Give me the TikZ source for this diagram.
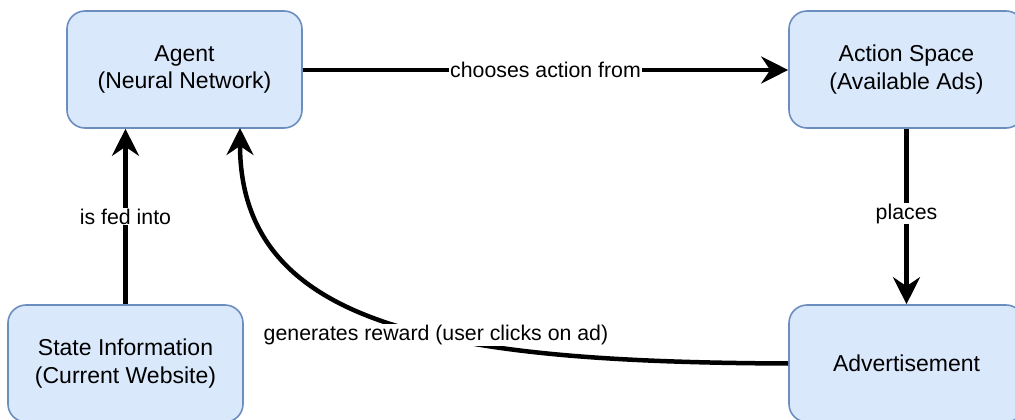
\documentclass[tikz,border=0pt]{standalone}
\usepackage{fontspec}
\setmainfont{Liberation Sans}
\usetikzlibrary{arrows.meta}
\definecolor{boxfill}{HTML}{DAE8FC}
\definecolor{boxline}{HTML}{6C8EBF}
\tikzset{
  stagebox/.style={draw=boxline, fill=boxfill, line width=1.6pt,
    rounded corners=18pt, minimum width=235pt, minimum height=117pt,
    inner sep=0pt, align=center, font=\fontsize{23}{27.6}\selectfont},
  flow/.style={line width=4.5pt, -{Stealth[length=27pt,width=27pt,inset=9pt]}},
  edgelabel/.style={fill=white, inner sep=1pt, font=\fontsize{21.3}{25}\selectfont}
}
\begin{document}
\begin{tikzpicture}[x=1pt,y=-1pt]
  \useasboundingbox (0,0) rectangle (1015,420);

  \node[stagebox] (agent)  at (184.5,69.5)  {Agent\\(Neural Network)};
  \node[stagebox] (space)  at (906.5,69.5)  {Action Space\\(Available Ads)};
  \node[stagebox] (state)  at (125.5,363.5) {State Information\\(Current Website)};
  \node[stagebox] (advert) at (906.5,363.5) {Advertisement};

  \draw[flow] (agent.east |- 0,70) -- (space.west |- 0,70)
    node[edgelabel, midway] {chooses action from};
  \draw[flow] (state.north) -- (state.north |- agent.south)
    node[edgelabel, midway] {is fed into};
  \draw[flow] (space.south) -- (advert.north)
    node[edgelabel, midway, yshift=3pt] {places};

  \coordinate (rewardend) at (240,128);
  \draw[flow] (advert.west) .. controls (450,362) and (240,330) .. (rewardend)
    node[edgelabel, pos=0.42] {generates reward (user clicks on ad)};
\end{tikzpicture}
\end{document}
